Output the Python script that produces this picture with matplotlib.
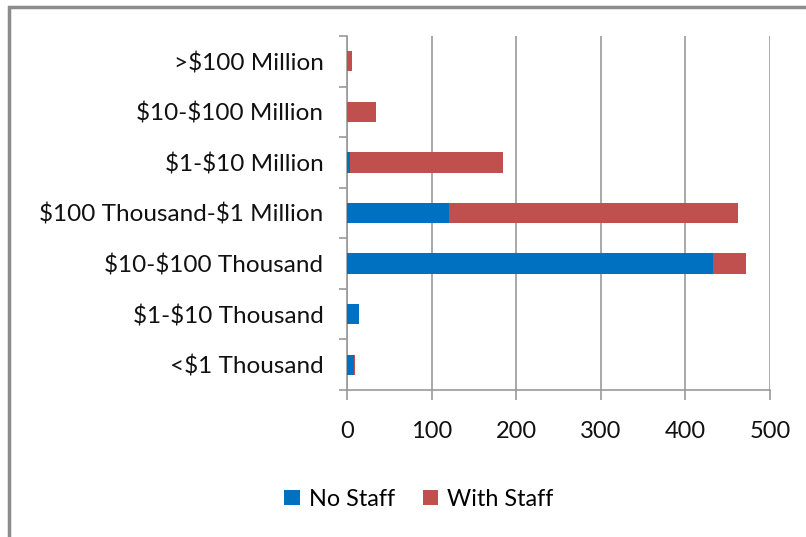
# stacked horizontal bar chart: staff by budget size
import numpy as np
import matplotlib.pyplot as plt
from matplotlib.patches import Rectangle

plt.rcParams['font.family'] = ['Lato', 'DejaVu Sans']
plt.rcParams['text.parse_math'] = False

# read x and y
categories = ["<$1 Thousand", "$1-$10 Thousand", "$10-$100 Thousand",
              "$100 Thousand-$1 Million", "$1-$10 Million",
              "$10-$100 Million", ">$100 Million"]
no_staff = [8, 14, 433, 121, 4, 0, 0]
with_staff = [1, 0, 39, 341, 180, 34, 6]
xticks = [0, 100, 200, 300, 400, 500]

blue = "#0070C0"
red = "#C0504D"
gray = "#9a9a9a"

fig = plt.figure(figsize=(8.06, 5.37), dpi=100)
ax = fig.add_axes([347/806, 1-390/537, 423/806, 354/537])

y = np.arange(len(categories))
ax.barh(y, no_staff, height=0.4, color=blue, label="No Staff", zorder=3)
ax.barh(y, with_staff, left=no_staff, height=0.4, color=red, label="With Staff", zorder=3)

ax.set_xlim(0, 500)
ax.set_ylim(-0.5, len(categories) - 0.5)
ax.set_xticks(xticks)
ax.set_yticks(y)
ax.set_yticklabels(categories)
ax.set_yticks(np.arange(-0.5, len(categories)), minor=True)
ax.grid(axis="x", color=gray, linewidth=1.2, zorder=0)

for s in ["top", "right"]:
    ax.spines[s].set_visible(False)
for s in ["left", "bottom"]:
    ax.spines[s].set_color(gray)
    ax.spines[s].set_linewidth(1.2)

ax.tick_params(axis="y", which="major", length=0, pad=17, labelsize=17.5, colors="#111111")
ax.tick_params(axis="y", which="minor", length=6, width=1.2, color=gray)
ax.tick_params(axis="x", length=7, width=1.2, color=gray, pad=15, labelsize=17,
               labelcolor="#111111")

fig.legend(loc="center", bbox_to_anchor=(0.52, 1-499/537), ncol=2, frameon=False,
           fontsize=16.8, handlelength=0.65, handleheight=0.65, handletextpad=0.4,
           columnspacing=1.2)

# outer chart border
fig.patches.append(Rectangle((9/806, -0.1), 1.2, 1.1 - 7/537, transform=fig.transFigure,
                             fill=False, edgecolor="#8c8c8c", linewidth=2.5))

plt.savefig("out.png")
